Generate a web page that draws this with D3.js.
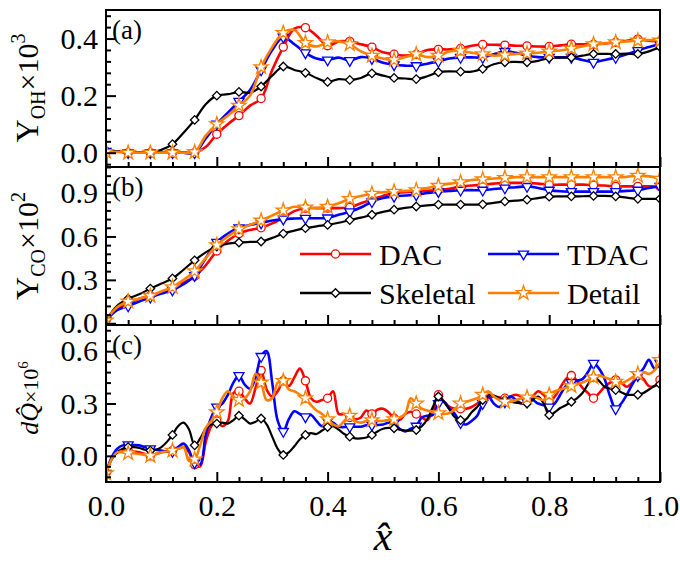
<!DOCTYPE html>
<html>
<head>
<meta charset="utf-8">
<script src="https://d3js.org/d3.v7.min.js"></script>
<style>
  body { margin: 0; background: #fff; }
  text { font-family: 'Liberation Serif', 'Times New Roman', serif; fill: #000; }
</style>
</head>
<body>
<div id="chart"></div>
<script>
  const w = 680;
  const h = 562;

  // sampling positions along x-hat
  const xCoarse = d3.range(0, 51).map(i => i / 50);   // step 0.02, panels (a) and (b)
  const xFine = d3.range(0, 101).map(i => i / 100);   // step 0.01, panel (c)

  const seriesNames = ['DAC', 'TDAC', 'Skeletal', 'Detail'];
  const seriesColors = ['#ff0000', '#0000ff', '#000000', '#ff8000'];

  // (a) Y_OH x 10^3
  const ohDAC = [0.005, 0.005, 0, 0, 0, 0, 0, 0, 0, 0.02, 0.065, 0.1, 0.13, 0.165, 0.19, 0.29, 0.37, 0.435, 0.438, 0.41,
    0.375, 0.39, 0.39, 0.38, 0.37, 0.352, 0.345, 0.34, 0.345, 0.36, 0.362, 0.362, 0.365, 0.375, 0.379, 0.378, 0.377, 0.375,
    0.374, 0.372, 0.372, 0.376, 0.38, 0.38, 0.38, 0.382, 0.387, 0.392, 0.398, 0.392, 0.39];
  const ohTDAC = [0.005, 0.005, 0, 0, 0, 0, 0, 0, 0, 0.05, 0.1, 0.14, 0.18, 0.22, 0.29, 0.36, 0.405, 0.38, 0.35, 0.33,
    0.325, 0.333, 0.323, 0.335, 0.33, 0.315, 0.308, 0.305, 0.305, 0.312, 0.32, 0.33, 0.334, 0.334, 0.334, 0.345, 0.355,
    0.35, 0.34, 0.335, 0.334, 0.334, 0.334, 0.325, 0.317, 0.325, 0.334, 0.345, 0.358, 0.37, 0.38];
  const ohSkeletal = [0.005, 0.005, 0, 0, 0, 0.01, 0.03, 0.07, 0.115, 0.17, 0.2, 0.205, 0.213, 0.21, 0.232, 0.27, 0.302,
    0.29, 0.28, 0.262, 0.248, 0.258, 0.255, 0.262, 0.278, 0.27, 0.262, 0.26, 0.258, 0.268, 0.282, 0.285, 0.284, 0.284,
    0.294, 0.31, 0.317, 0.318, 0.317, 0.322, 0.332, 0.333, 0.334, 0.34, 0.346, 0.346, 0.346, 0.347, 0.346, 0.355, 0.37];
  const ohDetail = [0.003, 0.003, 0, 0, 0, 0, 0, 0, 0.002, 0.06, 0.1, 0.13, 0.165, 0.2, 0.3, 0.37, 0.42, 0.43, 0.385,
    0.372, 0.387, 0.39, 0.38, 0.355, 0.34, 0.33, 0.325, 0.335, 0.345, 0.335, 0.34, 0.355, 0.357, 0.35, 0.345, 0.34, 0.342,
    0.346, 0.348, 0.35, 0.355, 0.358, 0.365, 0.372, 0.38, 0.383, 0.387, 0.39, 0.393, 0.395, 0.393];

  // (b) Y_CO x 10^2
  const coDAC = [0.02, 0.1, 0.14, 0.17, 0.19, 0.21, 0.24, 0.28, 0.325, 0.4, 0.5, 0.57, 0.62, 0.645, 0.66, 0.69, 0.73,
    0.775, 0.795, 0.796, 0.796, 0.796, 0.8, 0.83, 0.855, 0.88, 0.9, 0.905, 0.91, 0.915, 0.92, 0.93, 0.945, 0.952, 0.958,
    0.965, 0.97, 0.97, 0.97, 0.965, 0.958, 0.958, 0.958, 0.958, 0.955, 0.952, 0.946, 0.946, 0.946, 0.946, 0.946];
  const coTDAC = [0.02, 0.09, 0.12, 0.15, 0.18, 0.205, 0.23, 0.27, 0.33, 0.45, 0.56, 0.62, 0.66, 0.68, 0.693, 0.71, 0.72,
    0.724, 0.726, 0.726, 0.728, 0.75, 0.77, 0.8, 0.84, 0.865, 0.877, 0.883, 0.888, 0.9, 0.91, 0.915, 0.92, 0.92, 0.92,
    0.928, 0.935, 0.94, 0.946, 0.935, 0.92, 0.912, 0.91, 0.91, 0.91, 0.91, 0.91, 0.915, 0.92, 0.935, 0.946];
  const coSkeletal = [0.02, 0.12, 0.17, 0.2, 0.24, 0.275, 0.31, 0.37, 0.435, 0.49, 0.53, 0.55, 0.558, 0.562, 0.565, 0.59,
    0.62, 0.64, 0.657, 0.67, 0.68, 0.695, 0.713, 0.73, 0.75, 0.77, 0.785, 0.797, 0.807, 0.815, 0.82, 0.82, 0.82, 0.82,
    0.822, 0.832, 0.842, 0.848, 0.854, 0.865, 0.875, 0.877, 0.877, 0.878, 0.88, 0.88, 0.877, 0.868, 0.86, 0.86, 0.86];
  const coDetail = [0.02, 0.11, 0.15, 0.17, 0.19, 0.22, 0.25, 0.3, 0.36, 0.45, 0.54, 0.6, 0.65, 0.68, 0.71, 0.745, 0.78,
    0.805, 0.8, 0.797, 0.805, 0.83, 0.86, 0.88, 0.895, 0.905, 0.91, 0.915, 0.92, 0.935, 0.95, 0.965, 0.975, 0.99, 0.995,
    1.0, 1.005, 1.01, 1.01, 1.01, 1.01, 1.01, 1.01, 1.01, 1.01, 1.01, 1.01, 1.012, 1.02, 1.015, 1.0];

  // (c) heat release x 10^6
  const qDAC = [-0.1, -0.02, 0.02, 0.03, 0.03, 0.025, 0.02, 0.01, 0, 0.01, 0.02, 0.025, 0.03, 0.04, 0.05, 0.02, -0.05,
    -0.06, 0.08, 0.17, 0.2, 0.17, 0.2, 0.36, 0.37, 0.33, 0.3, 0.39, 0.49, 0.38, 0.34, 0.37, 0.43, 0.4, 0.45, 0.5, 0.43,
    0.33, 0.31, 0.32, 0.33, 0.37, 0.24, 0.24, 0.22, 0.21, 0.22, 0.26, 0.24, 0.265, 0.27, 0.25, 0.215, 0.205, 0.24, 0.253,
    0.24, 0.22, 0.205, 0.26, 0.35, 0.31, 0.28, 0.27, 0.27, 0.27, 0.28, 0.3, 0.32, 0.33, 0.34, 0.335, 0.33, 0.34, 0.35,
    0.34, 0.32, 0.34, 0.37, 0.35, 0.31, 0.34, 0.39, 0.44, 0.46, 0.43, 0.39, 0.36, 0.33, 0.36, 0.396, 0.42, 0.435, 0.42,
    0.396, 0.42, 0.46, 0.44, 0.4, 0.4, 0.435];
  const qTDAC = [-0.1, -0.01, 0.04, 0.06, 0.063, 0.062, 0.06, 0.05, 0.04, 0.035, 0.03, 0.025, 0.025, 0.05, 0.07, 0.03,
    -0.04, -0.05, 0.12, 0.22, 0.28, 0.3, 0.35, 0.42, 0.46, 0.41, 0.385, 0.45, 0.57, 0.6, 0.42, 0.2, 0.14, 0.21, 0.255,
    0.24, 0.224, 0.234, 0.2, 0.17, 0.2, 0.19, 0.167, 0.165, 0.167, 0.167, 0.167, 0.175, 0.177, 0.177, 0.18, 0.19, 0.19,
    0.155, 0.14, 0.155, 0.17, 0.22, 0.23, 0.235, 0.3, 0.31, 0.27, 0.24, 0.19, 0.18, 0.2, 0.23, 0.3, 0.34, 0.3, 0.28, 0.31,
    0.34, 0.32, 0.3, 0.31, 0.32, 0.3, 0.29, 0.28, 0.3, 0.35, 0.4, 0.42, 0.43, 0.44, 0.48, 0.53, 0.5, 0.44, 0.34, 0.27,
    0.3, 0.35, 0.41, 0.46, 0.5, 0.55, 0.5, 0.53];
  const qSkeletal = [-0.1, -0.02, 0.02, 0.04, 0.05, 0.05, 0.045, 0.035, 0.03, 0.035, 0.05, 0.08, 0.12, 0.17, 0.19, 0.15,
    0.06, 0.1, 0.155, 0.18, 0.185, 0.19, 0.185, 0.205, 0.23, 0.21, 0.185, 0.195, 0.214, 0.18, 0.11, 0.04, 0.005, 0.02,
    0.055, 0.095, 0.12, 0.13, 0.125, 0.145, 0.165, 0.17, 0.15, 0.125, 0.11, 0.1, 0.1, 0.105, 0.12, 0.14, 0.155, 0.16,
    0.158, 0.15, 0.145, 0.145, 0.148, 0.17, 0.21, 0.28, 0.34, 0.31, 0.265, 0.22, 0.205, 0.21, 0.25, 0.28, 0.32, 0.35,
    0.345, 0.33, 0.32, 0.31, 0.305, 0.3, 0.3, 0.32, 0.34, 0.3, 0.234, 0.25, 0.274, 0.29, 0.31, 0.33, 0.36, 0.41, 0.45,
    0.43, 0.396, 0.385, 0.377, 0.365, 0.35, 0.35, 0.35, 0.36, 0.38, 0.4, 0.41];
  const qDetail = [-0.1, -0.02, 0.02, 0.02, 0.015, 0.015, 0.01, 0.005, 0, 0.01, 0.02, 0.025, 0.03, 0.04, 0.05, -0.03,
    -0.02, 0.06, 0.16, 0.2, 0.25, 0.33, 0.37, 0.34, 0.32, 0.33, 0.37, 0.47, 0.42, 0.32, 0.33, 0.42, 0.43, 0.38, 0.37,
    0.35, 0.33, 0.29, 0.26, 0.24, 0.21, 0.18, 0.17, 0.2, 0.23, 0.2, 0.19, 0.2, 0.205, 0.2, 0.2, 0.205, 0.21, 0.22, 0.24,
    0.33, 0.3, 0.27, 0.26, 0.25, 0.245, 0.24, 0.245, 0.27, 0.3, 0.31, 0.32, 0.33, 0.35, 0.37, 0.34, 0.32, 0.31, 0.31,
    0.32, 0.33, 0.335, 0.34, 0.33, 0.32, 0.35, 0.37, 0.38, 0.39, 0.4, 0.41, 0.42, 0.435, 0.45, 0.46, 0.45, 0.44, 0.425,
    0.415, 0.43, 0.45, 0.47, 0.48, 0.47, 0.49, 0.55];

  const xTicks = [0, 0.2, 0.4, 0.6, 0.8, 1.0];

  const panels = [
    {tag: '(a)', top: 10, bottom: 167, domain: [-0.05, 0.5], ticks: [0, 0.2, 0.4], minor: 0.04,
      xs: xCoarse, every: 2, series: [ohDAC, ohTDAC, ohSkeletal, ohDetail]},
    {tag: '(b)', top: 167, bottom: 325, domain: [-0.012, 1.08], ticks: [0, 0.3, 0.6, 0.9], minor: 0.06,
      xs: xCoarse, every: 2, series: [coDAC, coTDAC, coSkeletal, coDetail]},
    {tag: '(c)', top: 325, bottom: 482, domain: [-0.15, 0.75], ticks: [0, 0.3, 0.6], minor: 0.06,
      xs: xFine, every: 4, series: [qDAC, qTDAC, qSkeletal, qDetail]}
  ];

  const left = 106, right = 660;
  const serif = "'Liberation Serif', 'Times New Roman', serif";

  const x = d3.scaleLinear().domain([0, 1]).range([left, right]);
  const xMinor = d3.range(0, 26).map(i => i * 0.04).filter(v => xTicks.every(t => Math.abs(t - v) > 1e-6));

  const markers = [
    {type: d3.symbolCircle, size: 52, rot: 0},
    {type: d3.symbolTriangle, size: 44, rot: 180},
    {type: d3.symbolSquare, size: 36, rot: 45},
    {type: d3.symbolStar, size: 62, rot: 0}
  ];

  const svg = d3.select('#chart')
    .append('svg')
      .attr('width', w)
      .attr('height', h);

  const defs = svg.append('defs');

  panels.forEach((p, pi) => {
    const y = d3.scaleLinear().domain(p.domain).range([p.bottom, p.top]);
    const clipId = 'clip' + pi;
    defs.append('clipPath').attr('id', clipId)
      .append('rect')
        .attr('x', left).attr('y', p.top)
        .attr('width', right - left).attr('height', p.bottom - p.top);

    const line = d3.line()
      .x(d => x(d[0]))
      .y(d => y(d[1]))
      .curve(d3.curveCatmullRom.alpha(0.5));

    const plot = svg.append('g').attr('clip-path', 'url(#' + clipId + ')');

    p.series.forEach((vals, k) => {
      const pts = p.xs.map((xv, i) => [xv, vals[i]]);
      plot.append('path')
        .attr('d', line(pts))
        .attr('fill', 'none')
        .attr('stroke', seriesColors[k])
        .attr('stroke-width', k === 2 ? 2.2 : 2.6)
        .attr('stroke-linejoin', 'round');

      plot.selectAll(null)
        .data(pts.filter((d, i) => i % p.every === 0))
        .enter().append('path')
          .attr('transform', d => 'translate(' + x(d[0]) + ',' + y(d[1]) + ') rotate(' + markers[k].rot + ')')
          .attr('d', d3.symbol().type(markers[k].type).size(markers[k].size))
          .attr('fill', '#fff')
          .attr('stroke', seriesColors[k])
          .attr('stroke-width', 1.3);
    });

    // minor / major ticks, all pointing inward
    const yMinor = d3.range(Math.ceil(p.domain[0] / p.minor), Math.floor(p.domain[1] / p.minor) + 1)
      .map(i => i * p.minor)
      .filter(v => p.ticks.every(t => Math.abs(t - v) > 1e-6));

    const axes = svg.append('g')
      .attr('font-family', serif);

    axes.append('g')
      .attr('transform', 'translate(0,' + p.bottom + ')')
      .call(d3.axisBottom(x).tickValues(xMinor).tickSizeInner(-5).tickSizeOuter(0).tickFormat(''));

    axes.append('g')
      .attr('transform', 'translate(0,' + p.bottom + ')')
      .call(d3.axisBottom(x).tickValues(xTicks).tickSizeInner(-10).tickSizeOuter(0).tickPadding(13)
        .tickFormat(pi === 2 ? d3.format('.1f') : ''));

    axes.append('g')
      .attr('transform', 'translate(' + left + ',0)')
      .call(d3.axisLeft(y).tickValues(yMinor).tickSizeInner(-5).tickSizeOuter(0).tickFormat(''));

    axes.append('g')
      .attr('transform', 'translate(' + left + ',0)')
      .call(d3.axisLeft(y).tickValues(p.ticks).tickSizeInner(-10).tickSizeOuter(0).tickPadding(8)
        .tickFormat(d3.format('.1f')));

    axes.selectAll('.domain').remove();
    axes.selectAll('.tick line').attr('stroke', '#000').attr('stroke-width', 2);
    axes.selectAll('.tick text')
      .attr('font-size', 30)
      .attr('fill', '#000');

    // frame
    svg.append('rect')
      .attr('x', left).attr('y', p.top)
      .attr('width', right - left).attr('height', p.bottom - p.top)
      .attr('fill', 'none')
      .attr('stroke', '#000')
      .attr('stroke-width', 2);

    svg.append('text')
      .attr('x', left + 6)
      .attr('y', p.top + 29)
      .attr('font-size', 27)
      .text(p.tag);
  });

  // y-axis titles
  const yTitle = (cy, parts) => {
    const t = svg.append('text')
      .attr('transform', 'translate(38,' + cy + ') rotate(-90)')
      .attr('text-anchor', 'middle');
    parts.forEach(pt => {
      t.append('tspan')
        .attr('font-size', pt.size)
        .attr('dy', pt.dy || 0)
        .attr('font-style', pt.italic ? 'italic' : null)
        .text(pt.text);
    });
  };

  yTitle(88, [
    {text: 'Y', size: 32},
    {text: 'OH', size: 20, dy: 7},
    {text: '×10', size: 30, dy: -7},
    {text: '3', size: 20, dy: -13}
  ]);
  yTitle(246, [
    {text: 'Y', size: 32},
    {text: 'CO', size: 20, dy: 7},
    {text: '×10', size: 30, dy: -7},
    {text: '2', size: 20, dy: -13}
  ]);
  yTitle(398, [
    {text: 'd', size: 26, italic: true},
    {text: 'Q\u0302', size: 26, italic: true},
    {text: '×10', size: 22},
    {text: '6', size: 15, dy: -10}
  ]);

  // x-axis title
  svg.append('text')
    .attr('x', (left + right) / 2)
    .attr('y', 550)
    .attr('text-anchor', 'middle')
    .attr('font-size', 42)
    .attr('font-style', 'italic')
    .text('x\u0302');

  // legend
  const legend = svg.append('g');
  const legendPos = [[300, 254], [488, 254], [300, 293], [488, 293]];
  seriesNames.forEach((name, k) => {
    const [lx, ly] = legendPos[k];
    const item = legend.append('g').attr('transform', 'translate(' + lx + ',' + ly + ')');
    item.append('line')
      .attr('x1', 0).attr('x2', 71)
      .attr('stroke', seriesColors[k])
      .attr('stroke-width', 2.6);
    item.append('path')
      .attr('transform', 'translate(35.5,0) rotate(' + markers[k].rot + ')')
      .attr('d', d3.symbol().type(markers[k].type).size(markers[k].size))
      .attr('fill', '#fff')
      .attr('stroke', seriesColors[k])
      .attr('stroke-width', 1.3);
    item.append('text')
      .attr('x', 79)
      .attr('dy', '0.35em')
      .attr('font-size', 30)
      .text(name);
  });
</script>
</body>
</html>
